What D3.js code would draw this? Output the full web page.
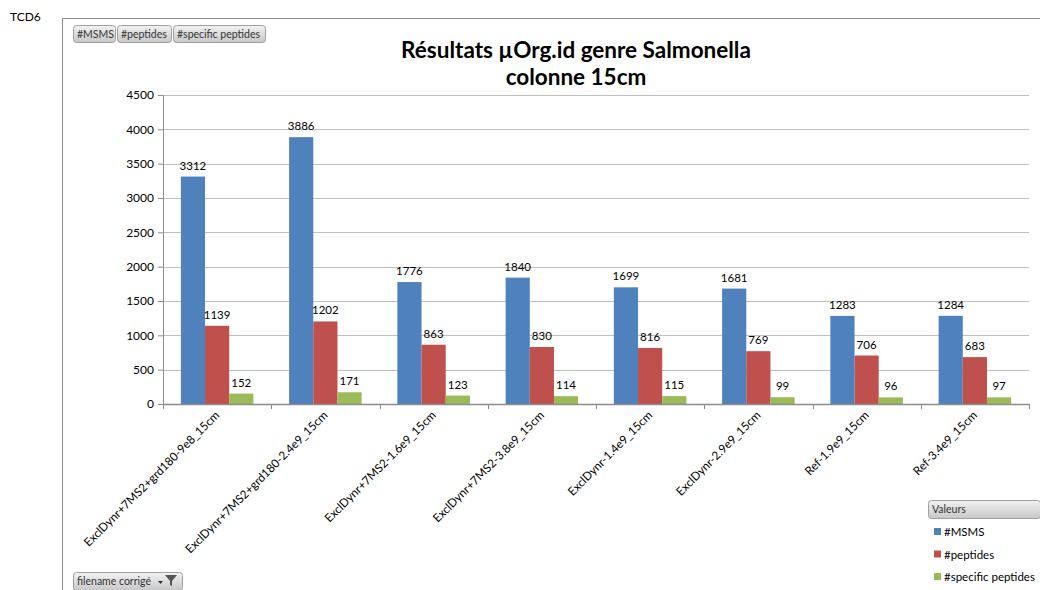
<!DOCTYPE html>
<html>
<head>
<meta charset="utf-8">
<script src="https://cdn.jsdelivr.net/npm/d3@7"></script>
<style>
  html, body { margin: 0; padding: 0; background: #fff; }
  svg { display: block; font-family: Lato, "Liberation Sans", sans-serif; }
</style>
</head>
<body>
<svg id="chart" width="1040" height="590"></svg>
<script>
// Pivot chart data
const categories = [
  "ExclDynr+7MS2+grd180-9e8_15cm",
  "ExclDynr+7MS2+grd180-2.4e9_15cm",
  "ExclDynr+7MS2-1.6e9_15cm",
  "ExclDynr+7MS2-3.8e9_15cm",
  "ExclDynr-1.4e9_15cm",
  "ExclDynr-2.9e9_15cm",
  "Ref-1.9e9_15cm",
  "Ref-3.4e9_15cm"
];
const seriesNames = ["#MSMS", "#peptides", "#specific peptides"];
const msms = [3312, 3886, 1776, 1840, 1699, 1681, 1283, 1284];
const peptides = [1139, 1202, 863, 830, 816, 769, 706, 683];
const specificPeptides = [152, 171, 123, 114, 115, 99, 96, 97];
const yTicks = [0, 500, 1000, 1500, 2000, 2500, 3000, 3500, 4000, 4500];
const colors = ["#4F81BD", "#C0504D", "#9BBB59"];

const seriesValues = [msms, peptides, specificPeptides];

const svg = d3.select("#chart");

// Sheet label and chart frame
svg.append("text").attr("x", 10).attr("y", 21)
  .attr("font-size", 12).attr("fill", "#000").text("TCD6");
svg.append("path").attr("d", "M62.5,590 V18.5 H1040")
  .attr("fill", "none").attr("stroke", "#8c8c8c").attr("stroke-width", 1);

// Grey pivot field buttons
const grad = svg.append("defs").append("linearGradient")
  .attr("id", "btn").attr("x1", 0).attr("y1", 0).attr("x2", 0).attr("y2", 1);
grad.append("stop").attr("offset", "0%").attr("stop-color", "#f2f2f2");
grad.append("stop").attr("offset", "100%").attr("stop-color", "#c8c8c8");

function button(x, y, w, h, label) {
  svg.append("rect").attr("x", x + 0.5).attr("y", y + 0.5).attr("width", w).attr("height", h)
    .attr("rx", 3).attr("fill", "url(#btn)").attr("stroke", "#a0a0a0");
  svg.append("text").attr("x", x + 4).attr("y", y + h / 2 + 4)
    .attr("font-size", 10.5).attr("fill", "#333").text(label);
}
button(73, 25, 42, 17, "#MSMS");
button(117, 25, 54, 17, "#peptides");
button(173, 25, 92, 17, "#specific peptides");
button(73, 572, 109, 18, "filename corrigé");
// funnel icon on the filter button
svg.append("path").attr("d", "M165,575 h12 l-5,6 v5 l-2,-1 v-4 z").attr("fill", "#555");
svg.append("path").attr("d", "M158,581 h5 l-2.5,3 z").attr("fill", "#333");

// Title
const title = svg.append("text").attr("text-anchor", "middle")
  .attr("font-weight", "bold").attr("font-size", 22.5).attr("fill", "#000");
title.append("tspan").attr("x", 576).attr("y", 58).text("Résultats µOrg.id genre Salmonella");
title.append("tspan").attr("x", 576).attr("y", 85).text("colonne 15cm");

// Plot area
const plot = { left: 163, right: 1029, top: 95, bottom: 404 };

const x0 = d3.scaleBand().domain(categories)
  .range([plot.left, plot.right]).paddingInner(0.33).paddingOuter(0.165);
const x1 = d3.scaleBand().domain(d3.range(seriesNames.length))
  .range([0, x0.bandwidth()]).padding(0);
const y = d3.scaleLinear().domain([0, 4500]).range([plot.bottom, plot.top]);

// Horizontal gridlines
svg.append("g").selectAll("line").data(yTicks.filter(d => d > 0)).join("line")
  .attr("x1", plot.left).attr("x2", plot.right)
  .attr("y1", d => Math.round(y(d)) + 0.5).attr("y2", d => Math.round(y(d)) + 0.5)
  .attr("stroke", "#c0c0c0").attr("stroke-width", 1.2);

// Y axis
const yAxis = svg.append("g").attr("transform", `translate(${plot.left},0)`)
  .call(d3.axisLeft(y).tickValues(yTicks).tickFormat(d3.format("d")).tickSize(5).tickPadding(4));
yAxis.select(".domain").attr("stroke", "#8c8c8c");
yAxis.selectAll(".tick line").attr("stroke", "#8c8c8c");
yAxis.selectAll(".tick text").attr("font-size", 12).attr("fill", "#000")
  .attr("font-family", "Lato, sans-serif");

// Bars
const groups = svg.append("g").selectAll("g").data(categories).join("g")
  .attr("transform", d => `translate(${x0(d)},0)`);

groups.each(function (cat, ci) {
  const g = d3.select(this);
  seriesValues.forEach((vals, si) => {
    const v = vals[ci];
    g.append("rect")
      .attr("x", x1(si)).attr("width", x1.bandwidth())
      .attr("y", y(v)).attr("height", y(0) - y(v))
      .attr("fill", colors[si]);
    g.append("text")
      .attr("x", x1(si) + x1.bandwidth() / 2).attr("y", y(v) - 7)
      .attr("text-anchor", "middle").attr("font-size", 11.5).attr("fill", "#000")
      .text(v);
  });
});

// X axis with category ticks at band boundaries
const step = (plot.right - plot.left) / categories.length;
const xAxisG = svg.append("g");
xAxisG.append("line").attr("x1", plot.left).attr("x2", plot.right + 1)
  .attr("y1", plot.bottom + 0.5).attr("y2", plot.bottom + 0.5)
  .attr("stroke", "#8c8c8c").attr("stroke-width", 1.5);
xAxisG.selectAll("line.tick").data(d3.range(categories.length + 1)).join("line")
  .attr("class", "tick")
  .attr("x1", i => Math.round(plot.left + i * step) + 0.5)
  .attr("x2", i => Math.round(plot.left + i * step) + 0.5)
  .attr("y1", plot.bottom).attr("y2", plot.bottom + 5)
  .attr("stroke", "#8c8c8c");

xAxisG.selectAll("text").data(categories).join("text")
  .attr("transform", d => {
    const cx = x0(d) + x0.bandwidth() / 2 + 3;
    return `translate(${cx},${plot.bottom + 12}) rotate(-45)`;
  })
  .attr("text-anchor", "end").attr("font-size", 11.7).attr("fill", "#000")
  .text(d => d);

// Legend
button(928, 500, 112, 18, "Valeurs");
const legend = svg.append("g").attr("transform", "translate(934,528)");
seriesNames.forEach((name, i) => {
  legend.append("rect").attr("x", 0).attr("y", i * 22.5).attr("width", 7).attr("height", 7)
    .attr("fill", colors[i]);
  legend.append("text").attr("x", 10).attr("y", i * 22.5 + 8)
    .attr("font-size", 11.5).attr("fill", "#000").text(name);
});
</script>
</body>
</html>
